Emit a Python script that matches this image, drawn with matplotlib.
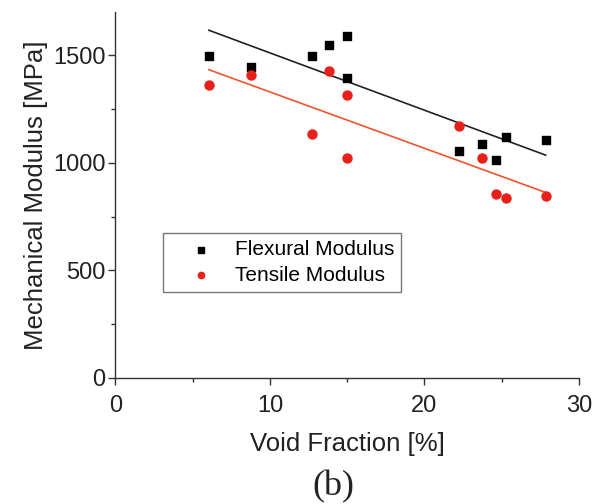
import numpy as np
import matplotlib
matplotlib.use("Agg")
import matplotlib.pyplot as plt
from matplotlib.ticker import MultipleLocator

plt.rcParams['font.family'] = ['Liberation Sans', 'DejaVu Sans']

# void fraction [%]
void_flex = [6.05, 8.78, 12.73, 13.85, 14.97, 14.97, 22.26, 23.7, 24.66, 25.3, 27.85]
flexural = [1495, 1446, 1495, 1548, 1590, 1393, 1056, 1088, 1012, 1119, 1108]

void_tens = [6.05, 8.78, 12.73, 13.85, 14.97, 14.97, 22.26, 23.7, 24.66, 25.3, 27.85]
tensile = [1359, 1407, 1135, 1426, 1314, 1022, 1173, 1022, 853, 836, 845]

fig = plt.figure(figsize=(5.98, 5.04), dpi=100)
ax = fig.add_axes([0.193, 0.25, 0.775, 0.726])

# linear fits
for xs, ys, c in [(void_flex, flexural, '#222222'), (void_tens, tensile, '#f2542d')]:
    k, b = np.polyfit(xs, ys, 1)
    xx = np.array([min(xs), max(xs)])
    ax.plot(xx, k * xx + b, color=c, lw=1.2, zorder=2)

ax.scatter(void_flex, flexural, marker='s', s=36, color='black', label='Flexural Modulus', zorder=3)
ax.scatter(void_tens, tensile, marker='o', s=42, color='#e8201a', label='Tensile Modulus', zorder=3)

ax.set_xlim(0, 30)
ax.set_ylim(0, 1700)
ax.xaxis.set_major_locator(MultipleLocator(10))
ax.xaxis.set_minor_locator(MultipleLocator(5))
ax.yaxis.set_major_locator(MultipleLocator(500))
ax.yaxis.set_minor_locator(MultipleLocator(250))

for s in ['top', 'right']:
    ax.spines[s].set_visible(False)
for s in ['left', 'bottom']:
    ax.spines[s].set_color('#333333')
    ax.spines[s].set_linewidth(1.0)

ax.tick_params(which='major', direction='out', length=5, width=1, colors='#333333',
               labelsize=17, labelcolor='#222222', pad=2)
ax.tick_params(axis='x', which='major', pad=7)
ax.tick_params(which='minor', direction='out', length=3, width=1, colors='#333333')

ax.set_xlabel('Void Fraction [%]', fontsize=18.5, color='#222222', labelpad=11)
ax.set_ylabel('Mechanical Modulus [MPa]', fontsize=18.5, color='#222222', labelpad=4)

leg = ax.legend(loc='lower left', bbox_to_anchor=(0.102, 0.235), borderaxespad=0,
                fontsize=15, markerscale=0.7, fancybox=False, framealpha=1,
                edgecolor='#777777', handlelength=3.0, handletextpad=0.1,
                borderpad=0.35, labelspacing=0.3)
leg.get_frame().set_linewidth(1.0)

fig.text(0.557, 0.034, '(b)', ha='center', va='center', fontsize=26,
         family=['Liberation Serif', 'DejaVu Serif'], color='#222222')

fig.savefig('out.png', dpi=100)
